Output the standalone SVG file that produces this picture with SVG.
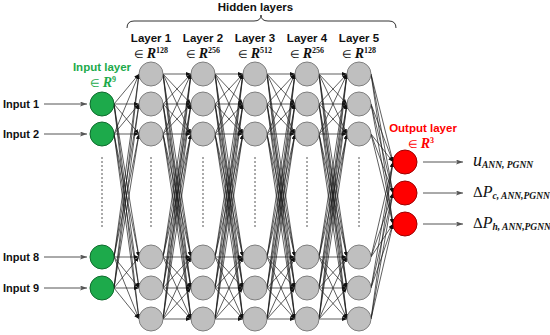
<svg xmlns="http://www.w3.org/2000/svg" width="550" height="335" viewBox="0 0 550 335">
<style>
.lbl{font-family:"Liberation Sans",Arial,sans-serif;font-weight:bold;font-size:11.5px;fill:#111;text-anchor:middle}
.inp{font-family:"Liberation Sans",Arial,sans-serif;font-weight:bold;font-size:11px;fill:#111}
.m{font-family:"Liberation Serif","Times New Roman",serif;fill:#111;text-anchor:middle}
.o{font-family:"Liberation Serif","Times New Roman",serif;fill:#111}
.e{font-size:11px}
.R{font-size:14px;font-style:italic;font-weight:bold}
.s{font-size:8px;font-weight:bold}
.c path{stroke:#1a1a1a;stroke-width:0.7;fill:none;marker-end:url(#a)}
.arr{stroke:#555;stroke-width:1;fill:none;marker-end:url(#b)}
.dot{stroke:#555;stroke-width:1;stroke-dasharray:2 2}
.g{fill:#1daa4b;stroke:#0f6b2e;stroke-width:1}
.h{fill:#bfbfbf;stroke:#7f7f7f;stroke-width:1}
.r{fill:#ff0000;stroke:#9c0000;stroke-width:1}
</style>
<defs>
<marker id="a" markerWidth="5" markerHeight="4" refX="5" refY="2" orient="auto" markerUnits="userSpaceOnUse"><path d="M0 0L5 2L0 4z" fill="#111"/></marker>
<marker id="b" markerWidth="7" markerHeight="5" refX="7" refY="2.5" orient="auto" markerUnits="userSpaceOnUse"><path d="M0 0L7 2.5L0 5L1.5 2.5z" fill="#555"/></marker>
</defs>
<rect width="550" height="335" fill="#fff"/>
<text class="lbl" x="255.5" y="11">Hidden layers</text>
<path d="M127 28Q127 21 134 21L254 21Q261 21 261 15Q261 21 268 21L389 21Q396 21 396 28" fill="none" stroke="#333" stroke-width="1"/>
<g id="labels">
<text class="lbl" x="151" y="42">Layer 1</text>
<text class="m" x="151" y="57.5"><tspan class="e">∈ </tspan><tspan class="R">R</tspan><tspan class="s" dy="-4.5">128</tspan></text>
<text class="lbl" x="203" y="42">Layer 2</text>
<text class="m" x="203" y="57.5"><tspan class="e">∈ </tspan><tspan class="R">R</tspan><tspan class="s" dy="-4.5">256</tspan></text>
<text class="lbl" x="255" y="42">Layer 3</text>
<text class="m" x="255" y="57.5"><tspan class="e">∈ </tspan><tspan class="R">R</tspan><tspan class="s" dy="-4.5">512</tspan></text>
<text class="lbl" x="307" y="42">Layer 4</text>
<text class="m" x="307" y="57.5"><tspan class="e">∈ </tspan><tspan class="R">R</tspan><tspan class="s" dy="-4.5">256</tspan></text>
<text class="lbl" x="359" y="42">Layer 5</text>
<text class="m" x="359" y="57.5"><tspan class="e">∈ </tspan><tspan class="R">R</tspan><tspan class="s" dy="-4.5">128</tspan></text>
<text class="lbl" x="102" y="71" style="fill:#1daa4b">Input layer</text>
<text class="m" x="103" y="86.5" style="fill:#1daa4b"><tspan class="e">∈ </tspan><tspan class="R">R</tspan><tspan class="s" dy="-4.5">9</tspan></text>
<text class="lbl" x="423" y="132" style="fill:#ff0000">Output layer</text>
<text class="m" x="421" y="147.5" style="fill:#ff0000"><tspan class="e">∈ </tspan><tspan class="R">R</tspan><tspan class="s" dy="-4.5">3</tspan></text>
</g>
<g id="dots">
<line class="dot" x1="102" y1="157" x2="102" y2="227"/>
<line class="dot" x1="151" y1="157" x2="151" y2="227"/>
<line class="dot" x1="203" y1="157" x2="203" y2="227"/>
<line class="dot" x1="255" y1="157" x2="255" y2="227"/>
<line class="dot" x1="307" y1="157" x2="307" y2="227"/>
<line class="dot" x1="359" y1="157" x2="359" y2="227"/>
</g>
<g id="connectors" class="c">
<path d="M114 104 139 74"/><path d="M114 104 139 104"/><path d="M114 104 139 134"/><path d="M114 104 139 257"/><path d="M114 104 139 288"/><path d="M114 104 139 319"/>
<path d="M114 134 139 74"/><path d="M114 134 139 104"/><path d="M114 134 139 134"/><path d="M114 134 139 257"/><path d="M114 134 139 288"/><path d="M114 134 139 319"/>
<path d="M114 257 139 74"/><path d="M114 257 139 104"/><path d="M114 257 139 134"/><path d="M114 257 139 257"/><path d="M114 257 139 288"/><path d="M114 257 139 319"/>
<path d="M114 288 139 74"/><path d="M114 288 139 104"/><path d="M114 288 139 134"/><path d="M114 288 139 257"/><path d="M114 288 139 288"/><path d="M114 288 139 319"/>

<path d="M163 74 191 74"/><path d="M163 74 191 104"/><path d="M163 74 191 134"/><path d="M163 74 191 257"/><path d="M163 74 191 288"/><path d="M163 74 191 319"/>
<path d="M163 104 191 74"/><path d="M163 104 191 104"/><path d="M163 104 191 134"/><path d="M163 104 191 257"/><path d="M163 104 191 288"/><path d="M163 104 191 319"/>
<path d="M163 134 191 74"/><path d="M163 134 191 104"/><path d="M163 134 191 134"/><path d="M163 134 191 257"/><path d="M163 134 191 288"/><path d="M163 134 191 319"/>
<path d="M163 257 191 74"/><path d="M163 257 191 104"/><path d="M163 257 191 134"/><path d="M163 257 191 257"/><path d="M163 257 191 288"/><path d="M163 257 191 319"/>
<path d="M163 288 191 74"/><path d="M163 288 191 104"/><path d="M163 288 191 134"/><path d="M163 288 191 257"/><path d="M163 288 191 288"/><path d="M163 288 191 319"/>
<path d="M163 319 191 74"/><path d="M163 319 191 104"/><path d="M163 319 191 134"/><path d="M163 319 191 257"/><path d="M163 319 191 288"/><path d="M163 319 191 319"/>

<path d="M215 74 243 74"/><path d="M215 74 243 104"/><path d="M215 74 243 134"/><path d="M215 74 243 257"/><path d="M215 74 243 288"/><path d="M215 74 243 319"/>
<path d="M215 104 243 74"/><path d="M215 104 243 104"/><path d="M215 104 243 134"/><path d="M215 104 243 257"/><path d="M215 104 243 288"/><path d="M215 104 243 319"/>
<path d="M215 134 243 74"/><path d="M215 134 243 104"/><path d="M215 134 243 134"/><path d="M215 134 243 257"/><path d="M215 134 243 288"/><path d="M215 134 243 319"/>
<path d="M215 257 243 74"/><path d="M215 257 243 104"/><path d="M215 257 243 134"/><path d="M215 257 243 257"/><path d="M215 257 243 288"/><path d="M215 257 243 319"/>
<path d="M215 288 243 74"/><path d="M215 288 243 104"/><path d="M215 288 243 134"/><path d="M215 288 243 257"/><path d="M215 288 243 288"/><path d="M215 288 243 319"/>
<path d="M215 319 243 74"/><path d="M215 319 243 104"/><path d="M215 319 243 134"/><path d="M215 319 243 257"/><path d="M215 319 243 288"/><path d="M215 319 243 319"/>

<path d="M267 74 295 74"/><path d="M267 74 295 104"/><path d="M267 74 295 134"/><path d="M267 74 295 257"/><path d="M267 74 295 288"/><path d="M267 74 295 319"/>
<path d="M267 104 295 74"/><path d="M267 104 295 104"/><path d="M267 104 295 134"/><path d="M267 104 295 257"/><path d="M267 104 295 288"/><path d="M267 104 295 319"/>
<path d="M267 134 295 74"/><path d="M267 134 295 104"/><path d="M267 134 295 134"/><path d="M267 134 295 257"/><path d="M267 134 295 288"/><path d="M267 134 295 319"/>
<path d="M267 257 295 74"/><path d="M267 257 295 104"/><path d="M267 257 295 134"/><path d="M267 257 295 257"/><path d="M267 257 295 288"/><path d="M267 257 295 319"/>
<path d="M267 288 295 74"/><path d="M267 288 295 104"/><path d="M267 288 295 134"/><path d="M267 288 295 257"/><path d="M267 288 295 288"/><path d="M267 288 295 319"/>
<path d="M267 319 295 74"/><path d="M267 319 295 104"/><path d="M267 319 295 134"/><path d="M267 319 295 257"/><path d="M267 319 295 288"/><path d="M267 319 295 319"/>

<path d="M319 74 347 74"/><path d="M319 74 347 104"/><path d="M319 74 347 134"/><path d="M319 74 347 257"/><path d="M319 74 347 288"/><path d="M319 74 347 319"/>
<path d="M319 104 347 74"/><path d="M319 104 347 104"/><path d="M319 104 347 134"/><path d="M319 104 347 257"/><path d="M319 104 347 288"/><path d="M319 104 347 319"/>
<path d="M319 134 347 74"/><path d="M319 134 347 104"/><path d="M319 134 347 134"/><path d="M319 134 347 257"/><path d="M319 134 347 288"/><path d="M319 134 347 319"/>
<path d="M319 257 347 74"/><path d="M319 257 347 104"/><path d="M319 257 347 134"/><path d="M319 257 347 257"/><path d="M319 257 347 288"/><path d="M319 257 347 319"/>
<path d="M319 288 347 74"/><path d="M319 288 347 104"/><path d="M319 288 347 134"/><path d="M319 288 347 257"/><path d="M319 288 347 288"/><path d="M319 288 347 319"/>
<path d="M319 319 347 74"/><path d="M319 319 347 104"/><path d="M319 319 347 134"/><path d="M319 319 347 257"/><path d="M319 319 347 288"/><path d="M319 319 347 319"/>

<path d="M371 74 393 162"/><path d="M371 74 393 193"/><path d="M371 74 393 224"/>
<path d="M371 104 393 162"/><path d="M371 104 393 193"/><path d="M371 104 393 224"/>
<path d="M371 134 393 162"/><path d="M371 134 393 193"/><path d="M371 134 393 224"/>
<path d="M371 257 393 162"/><path d="M371 257 393 193"/><path d="M371 257 393 224"/>
<path d="M371 288 393 162"/><path d="M371 288 393 193"/><path d="M371 288 393 224"/>
<path d="M371 319 393 162"/><path d="M371 319 393 193"/><path d="M371 319 393 224"/>
</g>
<g id="io-arrows">
<path class="arr" d="M44 104H87"/>
<path class="arr" d="M44 134H87"/>
<path class="arr" d="M44 257H87"/>
<path class="arr" d="M44 288H87"/>
<path class="arr" d="M423 162H463"/>
<path class="arr" d="M423 193H463"/>
<path class="arr" d="M423 224H463"/>
</g>
<g id="input-texts">
<text class="inp" x="3" y="108">Input 1</text>
<text class="inp" x="3" y="138">Input 2</text>
<text class="inp" x="3" y="261">Input 8</text>
<text class="inp" x="3" y="292">Input 9</text>
</g>
<g id="input-layer">
<circle id="in1" class="g" cx="102" cy="104" r="12"/>
<circle id="in2" class="g" cx="102" cy="134" r="12"/>
<circle id="in8" class="g" cx="102" cy="257" r="12"/>
<circle id="in9" class="g" cx="102" cy="288" r="12"/>
</g>
<g id="layer1"><circle class="h" cx="151" cy="74" r="12"/><circle class="h" cx="151" cy="104" r="12"/><circle class="h" cx="151" cy="134" r="12"/><circle class="h" cx="151" cy="257" r="12"/><circle class="h" cx="151" cy="288" r="12"/><circle class="h" cx="151" cy="319" r="12"/></g>
<g id="layer2"><circle class="h" cx="203" cy="74" r="12"/><circle class="h" cx="203" cy="104" r="12"/><circle class="h" cx="203" cy="134" r="12"/><circle class="h" cx="203" cy="257" r="12"/><circle class="h" cx="203" cy="288" r="12"/><circle class="h" cx="203" cy="319" r="12"/></g>
<g id="layer3"><circle class="h" cx="255" cy="74" r="12"/><circle class="h" cx="255" cy="104" r="12"/><circle class="h" cx="255" cy="134" r="12"/><circle class="h" cx="255" cy="257" r="12"/><circle class="h" cx="255" cy="288" r="12"/><circle class="h" cx="255" cy="319" r="12"/></g>
<g id="layer4"><circle class="h" cx="307" cy="74" r="12"/><circle class="h" cx="307" cy="104" r="12"/><circle class="h" cx="307" cy="134" r="12"/><circle class="h" cx="307" cy="257" r="12"/><circle class="h" cx="307" cy="288" r="12"/><circle class="h" cx="307" cy="319" r="12"/></g>
<g id="layer5"><circle class="h" cx="359" cy="74" r="12"/><circle class="h" cx="359" cy="104" r="12"/><circle class="h" cx="359" cy="134" r="12"/><circle class="h" cx="359" cy="257" r="12"/><circle class="h" cx="359" cy="288" r="12"/><circle class="h" cx="359" cy="319" r="12"/></g>
<g id="output-layer">
<circle class="r" cx="405" cy="162" r="12"/>
<circle class="r" cx="405" cy="193" r="12"/>
<circle class="r" cx="405" cy="224" r="12"/>
</g>
<g id="output-texts">
<text class="o" x="473" y="166"><tspan font-size="18" font-style="italic">u</tspan><tspan font-size="9.5" font-style="italic" font-weight="bold" dy="2">ANN, PGNN</tspan></text>
<text class="o" x="473" y="197"><tspan font-size="15">Δ</tspan><tspan font-size="16" font-style="italic">P</tspan><tspan font-size="9.5" font-style="italic" font-weight="bold" dy="2">c, ANN,PGNN</tspan></text>
<text class="o" x="473" y="228"><tspan font-size="15">Δ</tspan><tspan font-size="16" font-style="italic">P</tspan><tspan font-size="9.5" font-style="italic" font-weight="bold" dy="2">h, ANN,PGNN</tspan></text>
</g>
</svg>
